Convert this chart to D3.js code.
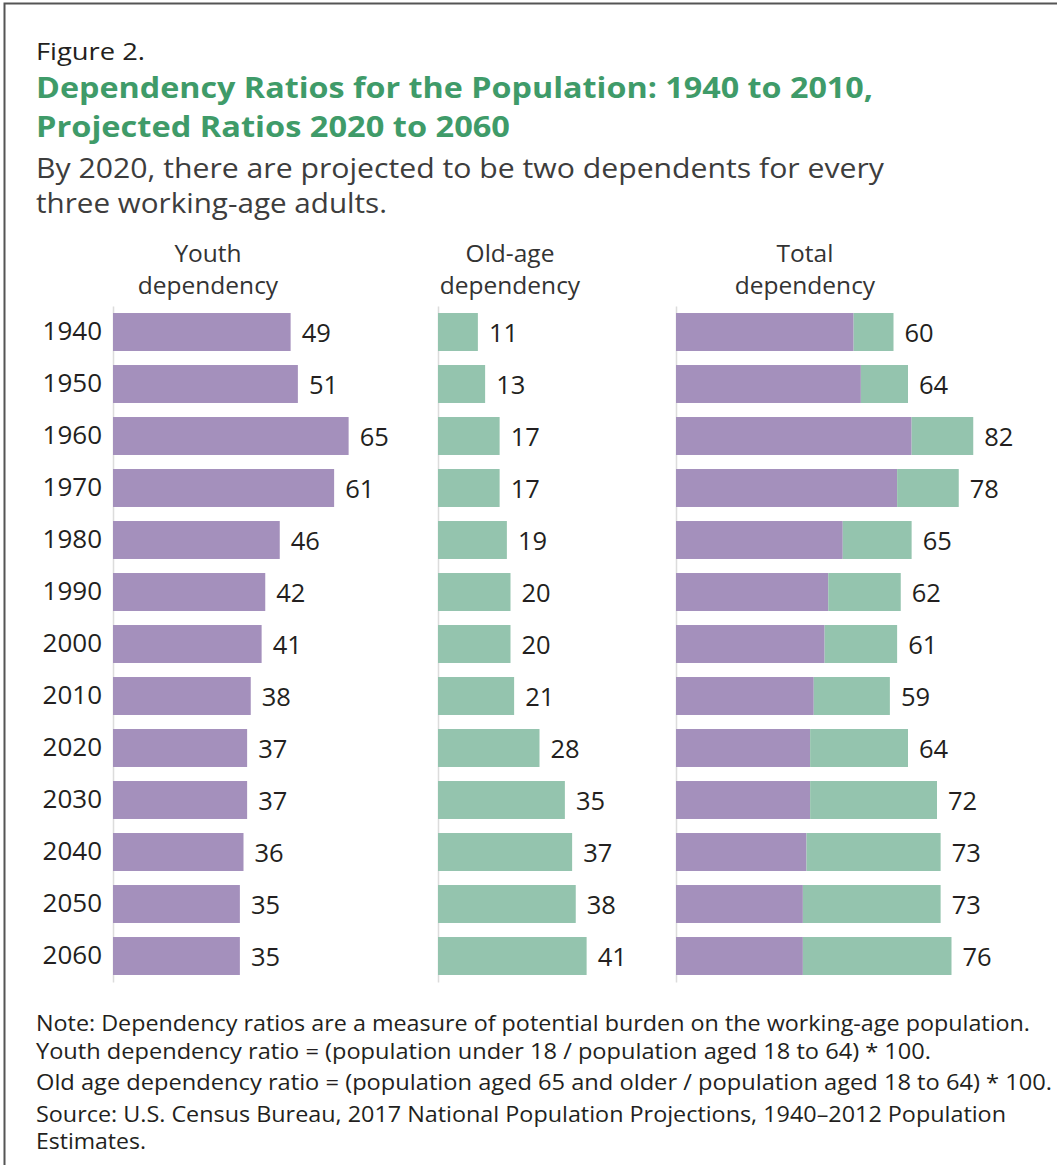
<!DOCTYPE html>
<html>
<head>
<meta charset="utf-8">
<script src="https://cdn.jsdelivr.net/npm/d3@7"></script>
<style>
  html, body { margin: 0; padding: 0; background: #fff; }
  svg { display: block; font-family: "Open Sans", sans-serif; }
</style>
</head>
<body>
<svg id="chart" width="1057" height="1165"></svg>
<script>
const years = ["1940","1950","1960","1970","1980","1990","2000","2010","2020","2030","2040","2050","2060"];
const youthValues = [49, 51, 65, 61, 46, 42, 41, 38, 37, 37, 36, 35, 35];
const oldAgeValues = [11, 13, 17, 17, 19, 20, 20, 21, 28, 35, 37, 38, 41];
const totalValues = [60, 64, 82, 78, 65, 62, 61, 59, 64, 72, 73, 73, 76];
const panelTitles = [["Youth", "dependency"], ["Old-age", "dependency"], ["Total", "dependency"]];
const figureLabel = "Figure 2.";
const titleLines = ["Dependency Ratios for the Population: 1940 to 2010,", "Projected Ratios 2020 to 2060"];
const subtitleLines = ["By 2020, there are projected to be two dependents for every", "three working-age adults."];
const noteLines = [
  "Note: Dependency ratios are a measure of potential burden on the working-age population.",
  "Youth dependency ratio = (population under 18 / population aged 18 to 64) * 100.",
  "Old age dependency ratio = (population aged 65 and older / population aged 18 to 64) * 100.",
  "Source: U.S. Census Bureau, 2017 National Population Projections, 1940\u20132012 Population",
  "Estimates."
];

const purple = "#a490bc";
const green = "#94c4ae";
const svg = d3.select("#chart");

// frame
svg.append("path")
  .attr("d", "M4.5,1165 L4.5,3.5 L1057,3.5")
  .attr("fill", "none").attr("stroke", "#555").attr("stroke-width", 2);

// header texts (textLength matches the wider original typeface)
svg.append("text").attr("x", 36).attr("y", 60).attr("font-size", 24).attr("fill", "#231f20")
  .attr("textLength", 109).attr("lengthAdjust", "spacingAndGlyphs").text(figureLabel);
const titleWidths = [837, 474];
titleLines.forEach((t, i) => {
  svg.append("text").attr("x", 36).attr("y", 98 + i * 39).attr("font-size", 28.5).attr("font-weight", 700)
    .attr("fill", "#3f9b69").attr("textLength", titleWidths[i]).attr("lengthAdjust", "spacingAndGlyphs").text(t);
});
const subtitleWidths = [848, 351];
subtitleLines.forEach((t, i) => {
  svg.append("text").attr("x", 36).attr("y", 178 + i * 35).attr("font-size", 26.5).attr("fill", "#3d3d3d")
    .attr("textLength", subtitleWidths[i]).attr("lengthAdjust", "spacingAndGlyphs").text(t);
});

// scales
const y = d3.scaleBand().domain(years).range([306, 982]).paddingInner(0.27).paddingOuter(0.135);
const unit = 3.625;
const panelX = [113, 438, 676];
const xs = panelX.map(x0 => d3.scaleLinear().domain([0, 100]).range([x0, x0 + 100 * unit]));
const headerCenters = [208, 510, 805];

// panel headers
panelTitles.forEach((lines, p) => {
  lines.forEach((t, i) => {
    svg.append("text").attr("x", headerCenters[p]).attr("y", 262 + i * 32)
      .attr("text-anchor", "middle").attr("font-size", 24.5).attr("fill", "#333").text(t);
  });
});

// axes
xs.forEach((x, p) => {
  const ax = d3.axisLeft(y).tickSize(0).tickSizeOuter(0).tickPadding(11);
  if (p > 0) ax.tickFormat("");
  const g = svg.append("g").attr("transform", `translate(${x(0)},0)`).call(ax);
  g.select(".domain").attr("stroke", "#dcdcdc").attr("stroke-width", 1.5);
  g.selectAll(".tick text").attr("font-size", 26).attr("fill", "#231f20")
    .attr("font-family", '"Open Sans", sans-serif');
});

const labelGap = 11;
function addLabels(x, values, ends) {
  svg.append("g").selectAll("text").data(years).join("text")
    .attr("x", (d, i) => x(ends[i]) + labelGap)
    .attr("y", d => y(d) + y.bandwidth() / 2)
    .attr("dy", "0.38em")
    .attr("font-size", 25.5).attr("fill", "#231f20")
    .text((d, i) => values[i]);
}

// youth panel
svg.append("g").selectAll("rect").data(years).join("rect")
  .attr("x", xs[0](0)).attr("y", d => y(d))
  .attr("width", (d, i) => xs[0](youthValues[i]) - xs[0](0))
  .attr("height", y.bandwidth()).attr("fill", purple);
addLabels(xs[0], youthValues, youthValues);

// old-age panel
svg.append("g").selectAll("rect").data(years).join("rect")
  .attr("x", xs[1](0)).attr("y", d => y(d))
  .attr("width", (d, i) => xs[1](oldAgeValues[i]) - xs[1](0))
  .attr("height", y.bandwidth()).attr("fill", green);
addLabels(xs[1], oldAgeValues, oldAgeValues);

// total panel (stacked)
svg.append("g").selectAll("rect").data(years).join("rect")
  .attr("x", xs[2](0)).attr("y", d => y(d))
  .attr("width", (d, i) => xs[2](youthValues[i]) - xs[2](0))
  .attr("height", y.bandwidth()).attr("fill", purple);
svg.append("g").selectAll("rect").data(years).join("rect")
  .attr("x", (d, i) => xs[2](youthValues[i])).attr("y", d => y(d))
  .attr("width", (d, i) => xs[2](totalValues[i]) - xs[2](youthValues[i]))
  .attr("height", y.bandwidth()).attr("fill", green);
addLabels(xs[2], totalValues, totalValues);

// notes
const noteY = [1031, 1059, 1090, 1122, 1149];
const noteWidths = [994, 895, 1016, 970, 110];
noteLines.forEach((t, i) => {
  svg.append("text").attr("x", 36).attr("y", noteY[i]).attr("font-size", 21).attr("fill", "#231f20")
    .attr("textLength", noteWidths[i]).attr("lengthAdjust", "spacingAndGlyphs").text(t);
});
</script>
</body>
</html>
